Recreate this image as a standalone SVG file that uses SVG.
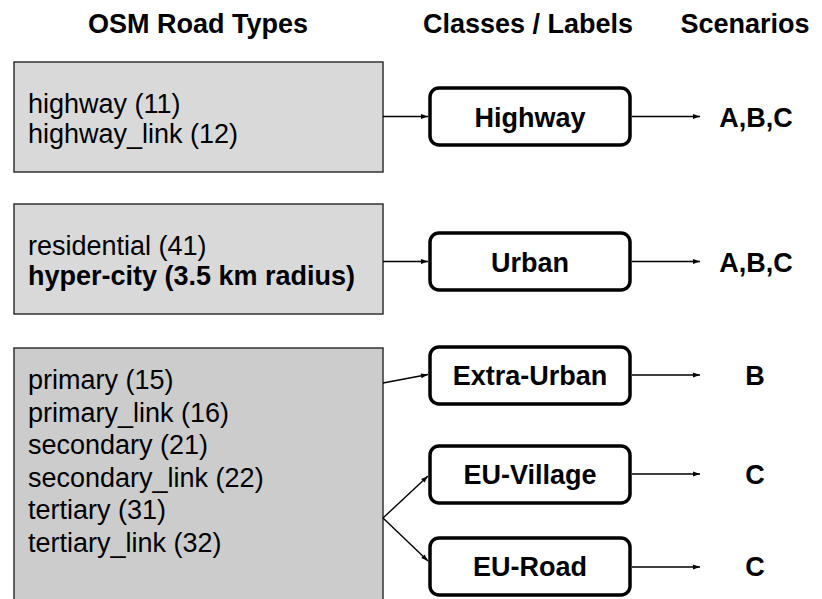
<svg xmlns="http://www.w3.org/2000/svg" width="822" height="599" viewBox="0 0 822 599">
  <defs>
    <marker id="arrow" viewBox="0 0 10 10" refX="10" refY="5" markerWidth="8" markerHeight="7" markerUnits="userSpaceOnUse" orient="auto">
      <path d="M0,1.5 L10,5 L0,8.5 z" fill="#000"/>
    </marker>
    <style>
      text { font-family: "Liberation Sans", Arial, sans-serif; fill: #000; }
      .hdr { font-size: 27px; font-weight: bold; text-anchor: middle; }
      .src { stroke: #333; stroke-width: 1.5; }
      .item { font-size: 27px; }
      .b { font-weight: bold; }
      .cls rect { fill: #fff; stroke: #000; stroke-width: 3.5; }
      .cls text { font-size: 27px; font-weight: bold; text-anchor: middle; }
      .scn { font-size: 27px; font-weight: bold; text-anchor: middle; }
      .conn line { stroke: #000; stroke-width: 1.4; marker-end: url(#arrow); }
    </style>
  </defs>
  <rect width="822" height="599" fill="#fff"/>

  <!-- column headings -->
  <text class="hdr" x="198" y="33">OSM Road Types</text>
  <text class="hdr" x="528" y="33">Classes / Labels</text>
  <text class="hdr" x="745" y="33">Scenarios</text>

  <!-- OSM road type groups -->
  <g id="osm-highway">
    <rect class="src" x="14" y="62" width="369" height="110" fill="#d9d9d9"/>
    <text class="item" x="28" y="113">highway (11)</text>
    <text class="item" x="28" y="143">highway_link (12)</text>
  </g>
  <g id="osm-urban">
    <rect class="src" x="14" y="204" width="369" height="110" fill="#d9d9d9"/>
    <text class="item" x="28" y="255">residential (41)</text>
    <text class="item b" x="28" y="285">hyper-city (3.5 km radius)</text>
  </g>
  <g id="osm-rural">
    <rect class="src" x="14" y="348" width="369" height="262" fill="#cccccc"/>
    <text class="item" x="28" y="389">primary (15)</text>
    <text class="item" x="28" y="421.6">primary_link (16)</text>
    <text class="item" x="28" y="454.2">secondary (21)</text>
    <text class="item" x="28" y="486.8">secondary_link (22)</text>
    <text class="item" x="28" y="519.4">tertiary (31)</text>
    <text class="item" x="28" y="552">tertiary_link (32)</text>
  </g>

  <!-- class labels -->
  <g id="cls-highway" class="cls">
    <rect x="430" y="88" width="200" height="57" rx="9"/>
    <text x="530" y="127">Highway</text>
  </g>
  <g id="cls-urban" class="cls">
    <rect x="430" y="233" width="200" height="57" rx="9"/>
    <text x="530" y="272">Urban</text>
  </g>
  <g id="cls-extra-urban" class="cls">
    <rect x="430" y="347" width="200" height="57" rx="9"/>
    <text x="530" y="385">Extra-Urban</text>
  </g>
  <g id="cls-eu-village" class="cls">
    <rect x="430" y="446" width="200" height="57" rx="9"/>
    <text x="530" y="484">EU-Village</text>
  </g>
  <g id="cls-eu-road" class="cls">
    <rect x="430" y="538" width="200" height="57" rx="9"/>
    <text x="530" y="576">EU-Road</text>
  </g>

  <!-- scenarios -->
  <g id="scn-highway"><text class="scn" x="756" y="127">A,B,C</text></g>
  <g id="scn-urban"><text class="scn" x="756" y="272">A,B,C</text></g>
  <g id="scn-extra-urban"><text class="scn" x="755" y="385">B</text></g>
  <g id="scn-eu-village"><text class="scn" x="755" y="484">C</text></g>
  <g id="scn-eu-road"><text class="scn" x="755" y="576">C</text></g>

  <!-- connectors -->
  <g id="connectors" class="conn">
    <line x1="383" y1="116.5" x2="428" y2="116.5"/>
    <line x1="383" y1="261.5" x2="428" y2="261.5"/>
    <line x1="383" y1="383" x2="428" y2="374.5"/>
    <line x1="383" y1="518" x2="428" y2="476"/>
    <line x1="383" y1="518" x2="428" y2="561"/>
    <line x1="632" y1="116.5" x2="700" y2="116.5"/>
    <line x1="632" y1="261.5" x2="700" y2="261.5"/>
    <line x1="632" y1="375" x2="700" y2="375"/>
    <line x1="632" y1="474" x2="700" y2="474"/>
    <line x1="632" y1="567" x2="700" y2="567"/>
  </g>
</svg>
